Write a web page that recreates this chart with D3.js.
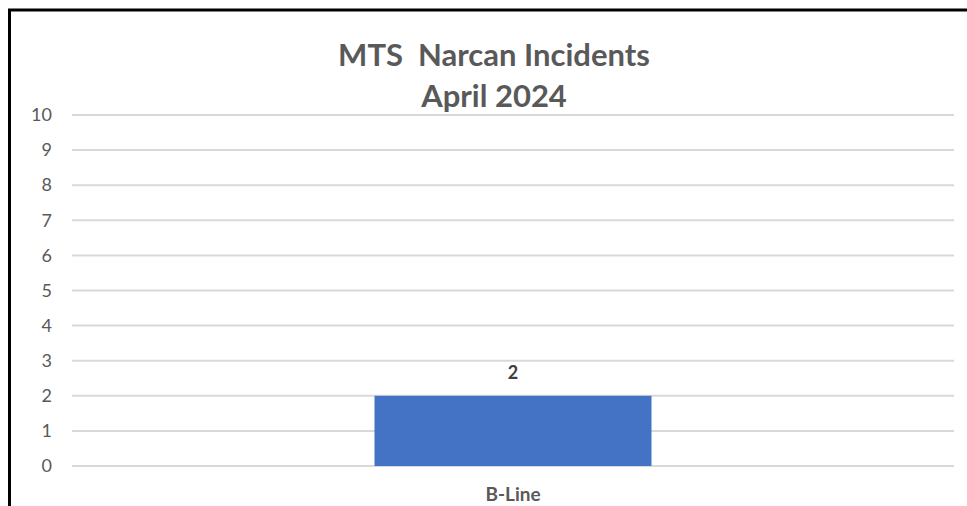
<!DOCTYPE html>
<html>
<head>
<meta charset="utf-8">
<script src="https://cdn.jsdelivr.net/npm/d3@7"></script>
<style>
  body { margin: 0; background: #fff; }
  svg { display: block; font-family: Lato, "Open Sans", sans-serif; }
</style>
</head>
<body>
<div id="chart"></div>
<script>
const categories = ["B-Line"];
const incidents = [2];
const yTicks = [0, 1, 2, 3, 4, 5, 6, 7, 8, 9, 10];
const titleLines = ["MTS  Narcan Incidents", "April 2024"];

const width = 967;
const height = 506;
const margin = { top: 115, right: 13, bottom: 40, left: 72 };

const svg = d3.select("#chart")
    .append("svg")
    .attr("width", width)
    .attr("height", height);

// frame (left + top only visible)
svg.append("path")
    .attr("d", `M9.5,${height} L9.5,10 L${width},10`)
    .attr("fill", "none")
    .attr("stroke", "#000")
    .attr("stroke-width", 3);

const xScale = d3.scaleBand()
    .domain(categories)
    .range([margin.left, width - margin.right])
    .padding(0.522);

const yScale = d3.scaleLinear()
    .domain([0, 10])
    .range([466, margin.top]);

// gridlines
svg.append("g")
    .selectAll("line")
    .data(yTicks)
    .join("line")
    .attr("x1", margin.left)
    .attr("x2", width - margin.right)
    .attr("y1", d => yScale(d))
    .attr("y2", d => yScale(d))
    .attr("stroke", "#d9d9d9")
    .attr("stroke-width", 2);

const yAxis = svg.append("g")
    .attr("transform", `translate(${margin.left},0)`)
    .call(d3.axisLeft(yScale).tickValues(yTicks).tickSize(0).tickPadding(20));
yAxis.select(".domain").remove();
yAxis.selectAll("text")
    .attr("fill", "#595959")
    .style("font-size", "18px")
    .style("font-family", "Lato, 'Open Sans', sans-serif");

svg.append("g")
    .selectAll("rect")
    .data(incidents)
    .join("rect")
    .attr("x", (d, i) => xScale(categories[i]))
    .attr("width", xScale.bandwidth())
    .attr("y", d => yScale(d))
    .attr("height", d => yScale(0) - yScale(d))
    .attr("fill", "#4472c4");

svg.append("g")
    .selectAll("text")
    .data(incidents)
    .join("text")
    .attr("x", (d, i) => xScale(categories[i]) + xScale.bandwidth() / 2)
    .attr("y", d => yScale(d) - 23)
    .attr("dy", "0.35em")
    .attr("text-anchor", "middle")
    .attr("fill", "#404040")
    .style("font-size", "18px")
    .style("font-weight", "bold")
    .text(d => d);

const xAxis = svg.append("g")
    .attr("transform", `translate(0,${yScale(0)})`)
    .call(d3.axisBottom(xScale).tickSize(0).tickPadding(22));
xAxis.select(".domain").remove();
xAxis.selectAll("text")
    .attr("fill", "#595959")
    .style("font-size", "19px")
    .style("font-weight", "bold")
    .style("font-family", "Lato, 'Open Sans', sans-serif");

svg.append("g")
    .selectAll("text")
    .data(titleLines)
    .join("text")
    .attr("x", 494)
    .attr("y", (d, i) => 55 + i * 41)
    .attr("dy", "0.35em")
    .attr("text-anchor", "middle")
    .attr("fill", "#595959")
    .style("font-size", "31px")
    .style("font-weight", "bold")
    .style("white-space", "pre")
    .text(d => d);
</script>
</body>
</html>
